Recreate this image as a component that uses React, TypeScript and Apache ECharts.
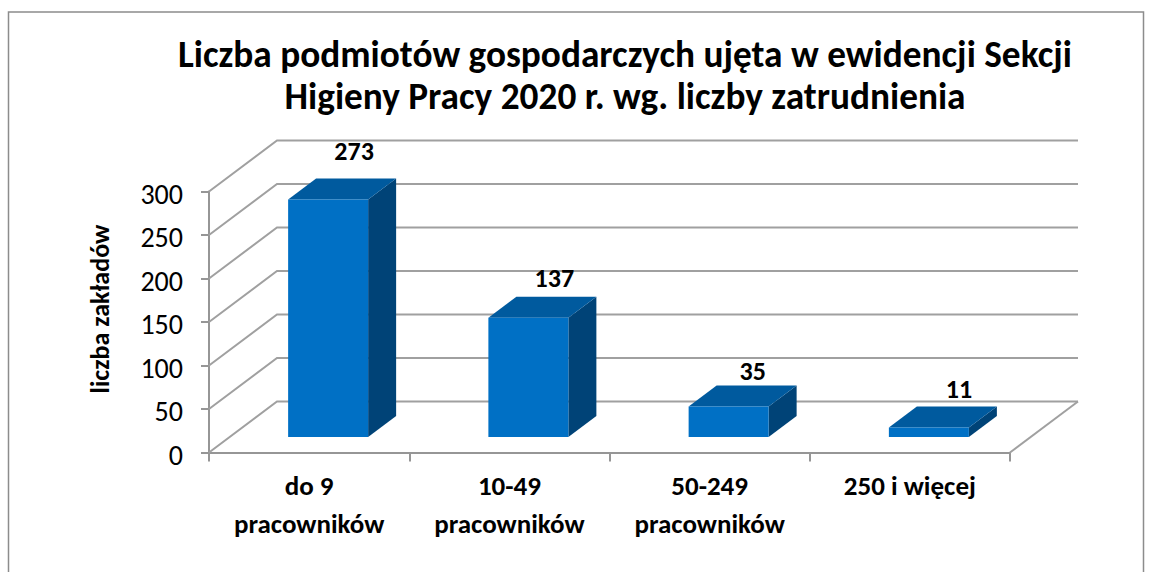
import React, { useEffect, useRef } from "react";
import * as echarts from "echarts";

const titleLines = ["Liczba podmiotów gospodarczych ujęta w ewidencji Sekcji", "Higieny Pracy 2020 r. wg. liczby zatrudnienia"];
const categories = ["do 9\npracowników", "10-49\npracowników", "50-249\npracowników", "250 i więcej"];
const values = [273, 137, 35, 11];
const ticks = [0, 50, 100, 150, 200, 250, 300];
const yName = "liczba zakładów";

const FONT = "Carlito, 'Open Sans', 'Noto Sans', sans-serif";
const DX = 68, DY = 51; // depth of the floor
const BAR_Y = 15.5; // front of bar offset
const BDX = 28, BDY = 21; // bar depth
const LABEL_LIFT = [48, 40, 36, 38];
const LABEL_BACK = [14, 14, 16, 10];

export default function App() {
  const ref = useRef<HTMLDivElement>(null);
  useEffect(() => {
    const chart = echarts.init(ref.current!, undefined, { renderer: "svg" });
    chart.setOption({
      animation: false,
      backgroundColor: "#fff",
      title: {
        text: titleLines.join("\n"),
        left: 620, top: 28, textAlign: "center",
        textStyle: { fontFamily: FONT, fontSize: 37.3, fontWeight: "bold", color: "#000", lineHeight: 42 },
      },
      grid: { left: 209, top: 191.5, width: 801, height: 261 },
      xAxis: {
        type: "category", data: categories,
        axisLine: { lineStyle: { color: "#969696", width: 2 } },
        axisTick: { show: true, length: 9, alignWithLabel: false, lineStyle: { color: "#969696", width: 2 } },
        axisLabel: { color: "#000", fontFamily: FONT, fontSize: 27, fontWeight: "bold", lineHeight: 38, margin: 14 },
      },
      yAxis: {
        type: "value", min: 0, max: 300, interval: 50,
        name: yName, nameLocation: "middle", nameGap: 96, nameRotate: 90,
        nameTextStyle: { color: "#000", fontFamily: FONT, fontSize: 26, fontWeight: "bold", padding: [0, 0, 0, 26] },
        axisLine: { show: true, lineStyle: { color: "#969696", width: 2 } },
        axisTick: { show: true, length: 8, lineStyle: { color: "#969696", width: 2 } },
        axisLabel: {
          margin: 26,
          formatter: "{t|{value}}",
          rich: { t: { color: "#000", fontFamily: FONT, fontSize: 28, padding: [5, 0, 0, 0] } },
        },
        splitLine: { show: false },
      },
      series: [
        {
          type: "custom", z: 1, silent: true,
          data: ticks.map((t) => [0, t]),
          encode: { x: 0, y: 1 },
          renderItem: (_p: any, api: any) => {
            const p = api.coord([0, api.value(1)]);
            const x0 = 209, x1 = 1010;
            const c: any[] = [{
              type: "polyline",
              shape: { points: [[x0, p[1]], [x0 + DX, p[1] - DY], [x1 + DX, p[1] - DY]] },
              style: { fill: "none", stroke: "#a0a0a0", lineWidth: 2 },
            }];
            if (api.value(1) === 0) {
              c.push({
                type: "line",
                shape: { x1: x1, y1: p[1], x2: x1 + DX, y2: p[1] - DY },
                style: { stroke: "#a0a0a0", lineWidth: 2 },
              });
            }
            return { type: "group", children: c };
          },
        },
        {
          type: "custom", z: 2, silent: true,
          data: values.map((v, i) => [i, v]),
          encode: { x: 0, y: 1 },
          renderItem: (_p: any, api: any) => {
            const i = api.value(0), v = api.value(1);
            const c = api.coord([i, v]);
            const b = api.coord([i, 0]);
            const w = 80;
            const l = c[0] - 21, r = l + w;
            const t = c[1] - BAR_Y, bt = b[1] - BAR_Y;
            return {
              type: "group",
              children: [
                { type: "polygon", shape: { points: [[r, t], [r + BDX, t - BDY], [r + BDX, bt - BDY], [r, bt]] }, style: { fill: "#004377" } },
                { type: "polygon", shape: { points: [[l, t], [l + BDX, t - BDY], [r + BDX, t - BDY], [r, t]] }, style: { fill: "#005A9E" } },
                { type: "rect", shape: { x: l, y: t, width: w, height: bt - t }, style: { fill: "#0070C5" } },
                {
                  type: "text", x: r - LABEL_BACK[i], y: t - LABEL_LIFT[i],
                  style: { text: String(v), fill: "#000", font: `bold 26px ${FONT}`, align: "center", verticalAlign: "middle" },
                },
              ],
            };
          },
        },
      ],
      graphic: [
        { type: "rect", shape: { x: 8.5, y: 12, width: 1135, height: 570 }, style: { fill: "none", stroke: "#8c8c8c", lineWidth: 1.5 }, silent: true, z: -1 },
      ],
    });
    return () => chart.dispose();
  }, []);
  return <div ref={ref} style={{ position: "fixed", left: 0, top: 0, width: 1152, height: 572 }} />;
}
